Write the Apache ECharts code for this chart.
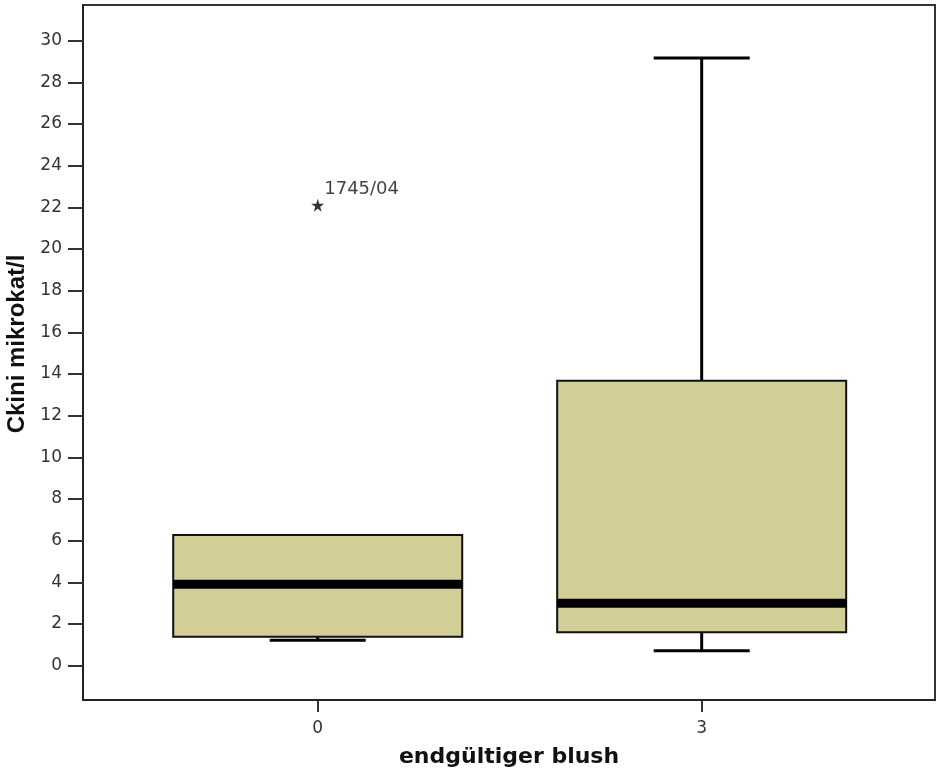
<!DOCTYPE html>
<html>
<head>
<meta charset="utf-8">
<script src="https://cdn.jsdelivr.net/npm/echarts@6/dist/echarts.min.js"></script>
<style>html,body{margin:0;padding:0;background:#fff;}#main{width:937px;height:769px;}</style>
</head>
<body>
<div id="main"></div>
<script>
// ---- data ----
const categories = ['0', '3'];            // endgültiger blush
const whiskerLow = [1.22, 0.72];
const q1 = [1.39, 1.60];
const median = [3.91, 2.99];
const q3 = [6.27, 13.68];
const whiskerHigh = [6.27, 29.17];
const outlierGroup = ['0'];
const outlierValue = [22.1];
const outlierLabel = ['1745/04'];
const yTicks = [0, 2, 4, 6, 8, 10, 12, 14, 16, 18, 20, 22, 24, 26, 28, 30];

const xPos = categories.map(Number);
const boxData = categories.map((c, i) => [xPos[i], whiskerLow[i], q1[i], median[i], q3[i], whiskerHigh[i]]);
const outlierData = outlierGroup.map((g, i) => ({ value: [Number(g), outlierValue[i]], name: outlierLabel[i] }));

const BOX_W = 289, CAP_W = 96, MED_H = 9;
const FILL = '#d3cd98';

const chart = echarts.init(document.getElementById('main'), null, { renderer: 'canvas' });
chart.setOption({
  backgroundColor: '#ffffff',
  animation: false,
  grid: { left: 83, right: 2, top: 5, bottom: 69, containLabel: false, outerBoundsMode: 'none',
    show: true, borderColor: '#333', borderWidth: 2, backgroundColor: 'transparent' },
  xAxis: {
    type: 'value', min: -1.834, max: 4.823,
    name: 'endgültiger blush', nameLocation: 'middle', nameGap: 46,
    nameTextStyle: { fontFamily: 'DejaVu Sans', fontWeight: 'bold', fontSize: 22, color: '#111' },
    axisLine: { show: true, onZero: false, lineStyle: { color: '#222', width: 2 } },
    axisTick: { show: true, length: 12, lineStyle: { color: '#333', width: 2 }, customValues: xPos },
    axisLabel: { customValues: xPos, margin: 20, fontFamily: 'DejaVu Sans', fontSize: 17, color: '#333',
      formatter: v => categories[xPos.indexOf(v)] ?? '' },
    splitLine: { show: false }
  },
  yAxis: {
    type: 'value', min: -1.65, max: 31.71,
    name: 'Ckini mikrokat/l', nameLocation: 'middle', nameGap: 50,
    nameTextStyle: { fontFamily: 'Liberation Sans', fontWeight: 'bold', fontSize: 24, color: '#111', padding: [0, 0, 0, 17] },
    axisLine: { show: true, onZero: false, lineStyle: { color: '#222', width: 2 } },
    axisTick: { show: true, length: 15, lineStyle: { color: '#333', width: 2 }, customValues: yTicks },
    axisLabel: { customValues: yTicks, margin: 21, fontFamily: 'DejaVu Sans', fontSize: 17, color: '#333' },
    splitLine: { show: false }
  },
  series: [
    {
      type: 'custom',
      data: boxData,
      renderItem: function (params, api) {
        const x = api.value(0);
        const pMin = api.coord([x, api.value(1)]);
        const pQ1 = api.coord([x, api.value(2)]);
        const pMed = api.coord([x, api.value(3)]);
        const pQ3 = api.coord([x, api.value(4)]);
        const pMax = api.coord([x, api.value(5)]);
        const cx = pMed[0];
        const line = (x1, y1, x2, y2) => ({ type: 'line', shape: { x1, y1, x2, y2 }, style: { stroke: '#000', lineWidth: 3 } });
        const children = [];
        if (pMax[1] < pQ3[1]) {
          children.push(line(cx, pQ3[1], cx, pMax[1]));
          children.push(line(cx - CAP_W / 2, pMax[1], cx + CAP_W / 2, pMax[1]));
        }
        if (pMin[1] > pQ1[1]) {
          children.push(line(cx, pQ1[1], cx, pMin[1]));
          children.push(line(cx - CAP_W / 2, pMin[1], cx + CAP_W / 2, pMin[1]));
        }
        children.push({ type: 'rect', shape: { x: cx - BOX_W / 2, y: pQ3[1], width: BOX_W, height: pQ1[1] - pQ3[1] },
          style: { fill: FILL, stroke: '#111', lineWidth: 2 } });
        children.push({ type: 'rect', shape: { x: cx - BOX_W / 2, y: pMed[1] - MED_H / 2, width: BOX_W, height: MED_H },
          style: { fill: '#000' } });
        return { type: 'group', children };
      },
      z: 2
    },
    {
      type: 'scatter',
      data: outlierData,
      symbol: 'path://M50,0 L61,35 L98,35 L68,57 L79,91 L50,70 L21,91 L32,57 L2,35 L39,35 Z',
      symbolSize: 13,
      itemStyle: { color: '#000' },
      label: { show: true, position: 'right', distance: 0, offset: [0, -16], formatter: p => p.name,
        fontFamily: 'DejaVu Sans', fontSize: 18, color: '#111' },
      z: 3
    }
  ]
});
</script>
</body>
</html>
